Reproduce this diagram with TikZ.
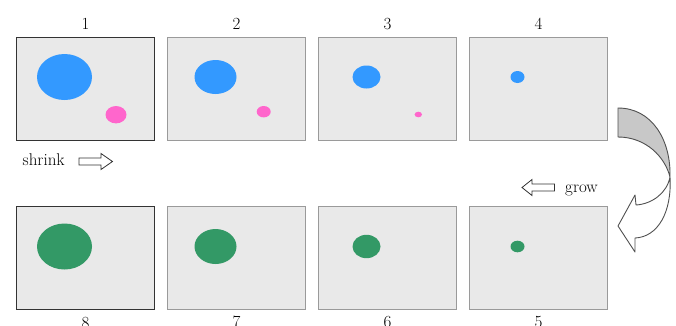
\documentclass[tikz,border=0pt]{standalone}
\usepackage{fontspec}
\usetikzlibrary{calc}
\definecolor{panelfill}{HTML}{E9E9E9}
\definecolor{panelline}{HTML}{9A9A9A}
\definecolor{keyline}{HTML}{333333}
\definecolor{dotblue}{HTML}{3399FF}
\definecolor{dotpink}{HTML}{FF66CC}
\definecolor{dotgreen}{HTML}{339966}
\definecolor{arrowgray}{HTML}{C8C8C8}
\definecolor{arrowline}{HTML}{505050}
\begin{document}
\begin{tikzpicture}[x=1pt,y=-1pt,
  font=\fontsize{17}{20}\selectfont,
  panel/.style={draw=panelline, line width=0.9pt, fill=panelfill,
    minimum width=138pt, minimum height=103pt, inner sep=0pt, anchor=north west},
  keypanel/.style={panel, draw=keyline, line width=1.2pt},
  toplabel/.style={anchor=base, yshift=7.7pt},
  botlabel/.style={anchor=base, yshift=-18pt},
  blockarrow/.style={draw=black!80, line width=0.8pt, fill=white},
  bendarrow/.style={draw=arrowline, line width=0.9pt, line join=round}]
\useasboundingbox (0,0) rectangle (676,325);

% top row
\node[keypanel] (p1) at (16,37) {};
\node[panel] (p2) at (167,37) {};
\node[panel] (p3) at (318,37) {};
\node[panel] (p4) at (469,37) {};
% bottom row
\node[keypanel] (p8) at (16,206) {};
\node[panel] (p7) at (167,206) {};
\node[panel] (p6) at (318,206) {};
\node[panel] (p5) at (469,206) {};

% labels
\node[toplabel] (l1) at (p1.north) {1};
\node[toplabel] (l2) at (p2.north) {2};
\node[toplabel] (l3) at (p3.north) {3};
\node[toplabel] (l4) at (p4.north) {4};
\node[botlabel] (l8) at (p8.south) {8};
\node[botlabel] (l7) at (p7.south) {7};
\node[botlabel] (l6) at (p6.south) {6};
\node[botlabel] (l5) at (p5.south) {5};

% blue and pink dots
\fill[dotblue] ($(p1.north west)+(48.5,40)$) ellipse [x radius=27.5pt, y radius=23pt];
\fill[dotpink] ($(p1.north west)+(100,77.7)$) ellipse [x radius=10.5pt, y radius=8.7pt];
\fill[dotblue] ($(p2.north west)+(48.5,40)$) ellipse [x radius=21pt, y radius=17pt];
\fill[dotpink] ($(p2.north west)+(96.7,74.7)$) ellipse [x radius=7pt, y radius=5.7pt];
\fill[dotblue] ($(p3.north west)+(48.5,40)$) ellipse [x radius=14pt, y radius=11.5pt];
\fill[dotpink] ($(p3.north west)+(100.3,77.5)$) ellipse [x radius=3.7pt, y radius=2.8pt];
\fill[dotblue] ($(p4.north west)+(48.5,40)$) ellipse [x radius=7pt, y radius=6pt];

% green dots
\fill[dotgreen] ($(p8.north west)+(48.5,40.5)$) ellipse [x radius=27.5pt, y radius=23pt];
\fill[dotgreen] ($(p7.north west)+(48.5,40.5)$) ellipse [x radius=21pt, y radius=17.5pt];
\fill[dotgreen] ($(p6.north west)+(48.5,40.5)$) ellipse [x radius=14pt, y radius=11.7pt];
\fill[dotgreen] ($(p5.north west)+(48.5,40.5)$) ellipse [x radius=7pt, y radius=5.8pt];

% shrink / grow
\node[anchor=base west, inner sep=0pt] (shrink) at (22.5,165) {shrink};
\draw[blockarrow] (79,158) -- (101,158) -- (101,153.5) -- (112.5,161.5)
  -- (101,169.5) -- (101,165) -- (79,165) -- cycle;
\node[anchor=base west, inner sep=0pt] (grow) at (565,192) {grow};
\draw[blockarrow] (554.5,184) -- (532,184) -- (532,179.5) -- (522,187.5)
  -- (532,195.5) -- (532,191) -- (554.5,191) -- cycle;

% bent ribbon arrow
\coordinate (c1) at (618,108);
\coordinate (c2) at (618,137);
\coordinate (cx) at (670,177);
\coordinate (s1) at (636,205);
\coordinate (b1) at (635,195);
\coordinate (tip) at (618,226);
\coordinate (b2) at (635,252);
\coordinate (s2) at (635,238);
\fill[arrowgray] (c1) -- (c2) .. controls (646,137) and (665,157) .. (cx)
  .. controls (671,140) and (652,108) .. (c1) -- cycle;
\draw[bendarrow] (c1) -- (c2) .. controls (646,137) and (665,157) .. (cx)
  .. controls (667,193) and (652,204) .. (s1) -- (b1) -- (tip) -- (b2) -- (s2)
  .. controls (658,237) and (672,212) .. (cx)
  .. controls (671,140) and (652,108) .. (c1) -- cycle;
\end{tikzpicture}
\end{document}
